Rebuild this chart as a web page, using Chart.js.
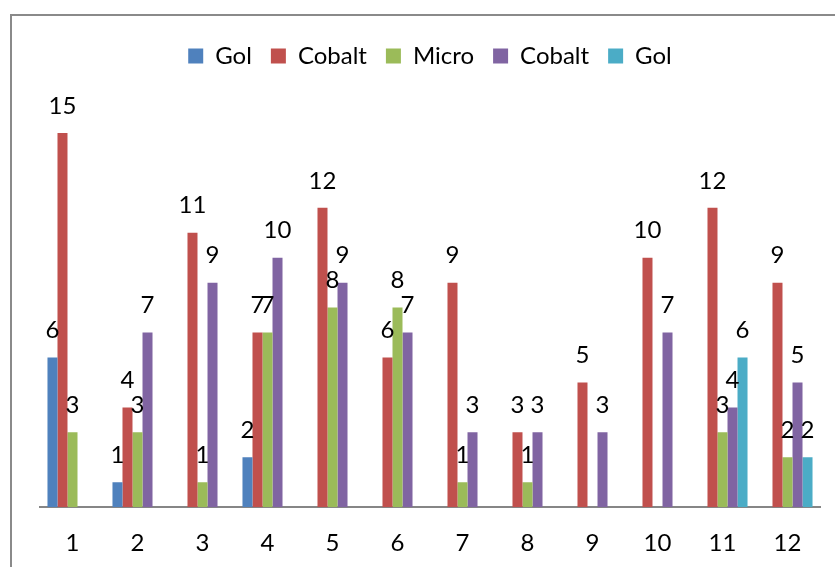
<!DOCTYPE html>
<html>
<head>
<meta charset="utf-8">
<script src="https://cdn.jsdelivr.net/npm/chart.js@4/dist/chart.umd.min.js"></script>
<style>
  html, body { margin: 0; padding: 0; background: #fff; }
  #wrap { width: 835px; height: 567px; }
</style>
</head>
<body>
<div id="wrap"><canvas id="barChart"></canvas></div>
<script>
const categories = ["1", "2", "3", "4", "5", "6", "7", "8", "9", "10", "11", "12"];
const seriesNames = ["Gol", "Cobalt", "Micro", "Cobalt", "Gol"];
const gol1 = [6, 1, null, 2, null, null, null, null, null, null, null, null];
const cobalt1 = [15, 4, 11, 7, 12, 6, 9, 3, 5, 10, 12, 9];
const micro = [3, 3, 1, 7, 8, 8, 1, 1, null, null, 3, 2];
const cobalt2 = [null, 7, 9, 10, 9, 7, 3, 3, 3, 7, 4, 5];
const gol2 = [null, null, null, null, null, null, null, null, null, null, 6, 2];
const colors = ["#4F81BD", "#C0504D", "#9BBB59", "#8064A2", "#4BACC6"];

const FONT = "Lato, 'DejaVu Sans', sans-serif";

// outer frame like the office chart border
const frame = {
  id: "frame",
  beforeDraw(chart) {
    const ctx = chart.ctx;
    ctx.save();
    ctx.strokeStyle = "#8a8a8a";
    ctx.lineWidth = 2;
    ctx.strokeRect(11, 15, 900, 900);
    ctx.restore();
  },
};

// push the plot down below the legend
const legendGap = {
  id: "legendGap",
  beforeInit(chart) {
    const fit = chart.legend.fit;
    chart.legend.fit = function () {
      fit.bind(chart.legend)();
      this.height += 30;
    };
  },
};

// value labels above bars
const valueLabels = {
  id: "valueLabels",
  afterDatasetsDraw(chart) {
    const ctx = chart.ctx;
    ctx.save();
    ctx.font = "24px " + FONT;
    ctx.fillStyle = "#000";
    ctx.textAlign = "center";
    ctx.textBaseline = "middle";
    chart.data.datasets.forEach((ds, i) => {
      const meta = chart.getDatasetMeta(i);
      meta.data.forEach((bar, j) => {
        const v = ds.data[j];
        if (v === null || v === undefined) return;
        ctx.fillText(String(v), bar.x, bar.y - 27);
      });
    });
    ctx.restore();
  },
};

const datasets = [gol1, cobalt1, micro, cobalt2, gol2].map((values, i) => ({
  label: seriesNames[i],
  data: values,
  backgroundColor: colors[i],
  borderWidth: 0,
  barPercentage: 1,
  categoryPercentage: 0.77,
}));

new Chart(document.getElementById("barChart").getContext("2d"), {
  type: "bar",
  data: { labels: categories, datasets: datasets },
  options: {
    responsive: true,
    maintainAspectRatio: false,
    animation: false,
    layout: { padding: { left: 40, right: 15, top: 25, bottom: -13 } },
    scales: {
      x: {
        grid: { display: false, drawTicks: false },
        border: { display: true, color: "#868686", width: 2 },
        ticks: { padding: 22, color: "#000", font: { family: FONT, size: 24 } },
      },
      y: {
        display: false,
        min: 0,
        max: 16,
      },
    },
    plugins: {
      legend: {
        position: "top",
        labels: {
          boxWidth: 15,
          boxHeight: 15,
          padding: 19,
          color: "#000",
          font: { family: FONT, size: 24 },
        },
      },
      tooltip: { enabled: false },
    },
  },
  plugins: [frame, legendGap, valueLabels],
});
</script>
</body>
</html>
